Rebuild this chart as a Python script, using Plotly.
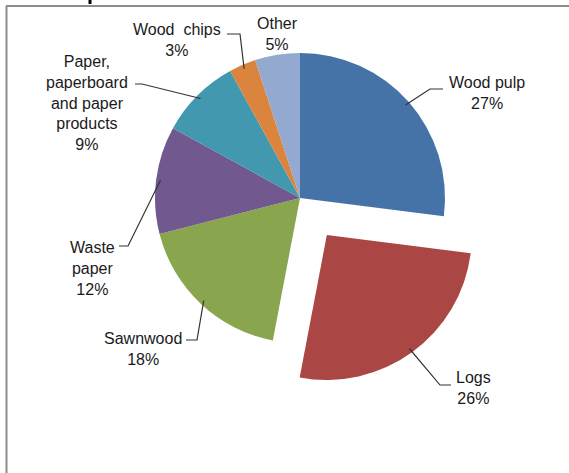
import math
import plotly.graph_objects as go

# 데이터
labels = ['Wood pulp', 'Logs', 'Sawnwood', 'Waste paper',
          'Paper, paperboard and paper products', 'Wood chips', 'Other']
label_text = ['Wood pulp', 'Logs', 'Sawnwood', 'Waste<br>paper',
              'Paper,<br>paperboard<br>and paper<br>products', 'Wood\u00a0 chips', 'Other']
values = [27, 26, 18, 12, 9, 3, 5]
pulls = [0, 0.315, 0, 0, 0, 0, 0]
colors = ['#4572A7', '#AA4643', '#89A54E', '#71588F', '#4198AF', '#DB843D', '#93A9CF']

W, H = 569, 473
# pie geometry (pixels)
cx, cy, r = 300, 198, 145
box = 2 * r * (1 + max(pulls))

def px(x):
    return x / W

def py(y):
    return 1 - y / H

# label block centres and leader elbows (pixels)
label_pos = {
    'Wood pulp': (487, 93),
    'Logs': (473, 388),
    'Sawnwood': (143, 349),
    'Waste paper': (92, 268),
    'Paper, paperboard and paper products': (87, 103),
    'Wood chips': (177, 40),
    'Other': (277, 34),
}
leaders = {
    'Wood pulp': [(430, 89), (443, 89)],
    'Logs': [(440, 385), (451, 385)],
    'Sawnwood': [(197, 340), (186, 340)],
    'Waste paper': [(128, 246), (119, 246)],
    'Paper, paperboard and paper products': [(142, 84), (135, 84)],
    'Wood chips': [(240, 34), (227, 34)],
}

fig = go.Figure(go.Pie(
    labels=labels, values=values, pull=pulls, sort=False,
    direction='clockwise', rotation=0, textinfo='none', hoverinfo='label+percent',
    marker=dict(colors=colors, line=dict(width=0)),
    domain=dict(x=[px(cx - box / 2), px(cx + box / 2)],
                y=[py(cy + box / 2), py(cy - box / 2)]),
    showlegend=False,
))

shapes = []
annotations = []
total = sum(values)
start = 0
for lab, txt, v, p in zip(labels, label_text, values, pulls):
    a = math.radians((start + v / 2) / total * 360)
    start += v
    ox = cx + p * r * math.sin(a)
    oy = cy - p * r * math.cos(a)
    ex, ey = ox + 0.97 * r * math.sin(a), oy - 0.97 * r * math.cos(a)
    if lab in leaders:
        pts = [(ex, ey)] + leaders[lab]
        path = 'M ' + ' L '.join(f'{px(x):.4f},{py(y):.4f}' for x, y in pts)
        shapes.append(dict(type='path', path=path, xref='paper', yref='paper',
                           line=dict(color='#333333', width=1.2)))
    lx, ly = label_pos[lab]
    annotations.append(dict(x=px(lx), y=py(ly), xref='paper', yref='paper',
                            text=f'{txt}<br>{v}%', showarrow=False,
                            xanchor='center', yanchor='middle', align='center',
                            font=dict(family='Liberation Sans, Arial', size=16, color='#1a1a1a')))

# frame and cut-off title fragment
shapes.append(dict(type='line', xref='paper', yref='paper', x0=px(6), x1=1, y0=py(6), y1=py(6),
                   line=dict(color='#8c8c8c', width=2)))
shapes.append(dict(type='line', xref='paper', yref='paper', x0=px(6.5), x1=px(6.5), y0=0, y1=py(6),
                   line=dict(color='#8c8c8c', width=2)))
shapes.append(dict(type='line', xref='paper', yref='paper', x0=px(90), x1=px(90), y0=py(0), y1=py(4),
                   line=dict(color='#000000', width=3)))

fig.update_layout(width=W, height=H, margin=dict(l=0, r=0, t=0, b=0),
                  paper_bgcolor='white', plot_bgcolor='white',
                  shapes=shapes, annotations=annotations)

fig.write_html("out.html", config={'displayModeBar': False},
               post_script="document.body.style.margin='0px';")
